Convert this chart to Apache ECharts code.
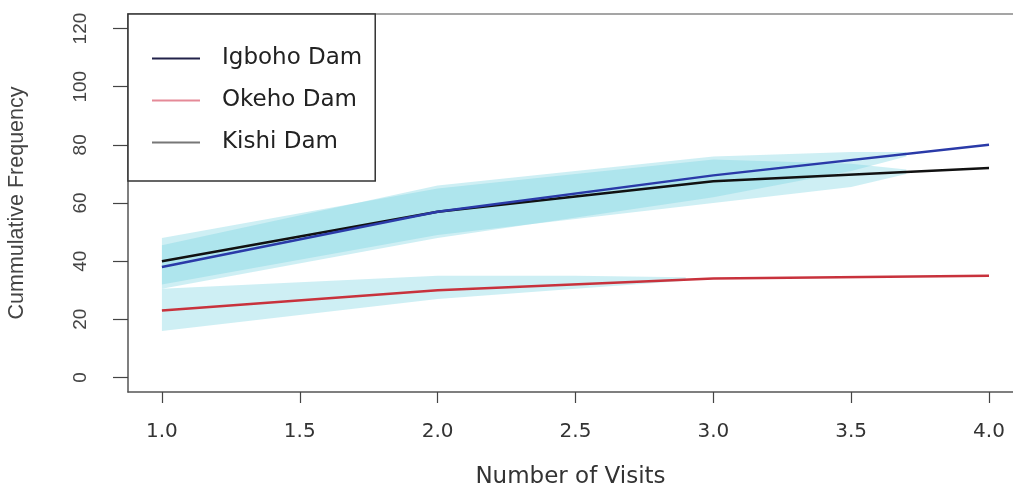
<!DOCTYPE html>
<html>
<head>
<meta charset="utf-8">
<script src="https://cdn.jsdelivr.net/npm/echarts@6/dist/echarts.min.js"></script>
<style>html,body{margin:0;padding:0;background:#fff;}#c{width:1013px;height:489px;}</style>
</head>
<body>
<div id="c"></div>
<script>
// ---- data ----
const visits = [1, 2, 3, 4];
const igboho = [38, 57, 69.5, 80];
const okeho = [23, 30, 34, 35];
const kishi = [40, 57, 67.5, 72];

const igbohoBandX = [1, 2, 3, 3.5, 3.7];
const igbohoLower = [30.5, 48, 62, 71, 76];
const igbohoUpper = [45.5, 66, 76, 77.5, 77.5];
const kishiBandX = [1, 2, 3, 3.5, 3.7];
const kishiLower = [32, 49, 60, 65.5, 70];
const kishiUpper = [48, 65, 75, 73.5, 71.5];
const okehoBandX = [1, 2, 2.5, 2.9];
const okehoLower = [16, 27, 30.5, 33.3];
const okehoUpper = [30.5, 35, 35, 34.5];

const xTicks = [1, 1.5, 2, 2.5, 3, 3.5, 4];
const yTicks = [0, 20, 40, 60, 80, 100, 120];
const seriesNames = ['Igboho Dam', 'Okeho Dam', 'Kishi Dam'];

// ---- helpers ----
const pairs = (xs, ys) => xs.map((x, i) => [x, ys[i]]);
function bandSeries(name, xs, lo, hi) {
  return {
    name: name,
    type: 'custom',
    z: 1,
    silent: true,
    data: [[xs[0], lo[0]]],
    renderItem: function (params, api) {
      const pts = [];
      for (let i = 0; i < xs.length; i++) pts.push(api.coord([xs[i], hi[i]]));
      for (let i = xs.length - 1; i >= 0; i--) pts.push(api.coord([xs[i], lo[i]]));
      return {
        type: 'polygon',
        shape: { points: pts },
        style: { fill: 'rgba(120,212,224,0.36)', stroke: null }
      };
    }
  };
}
function lineSeries(name, ys, color) {
  return {
    name: name,
    type: 'line',
    z: 3,
    data: pairs(visits, ys),
    showSymbol: false,
    symbol: 'none',
    lineStyle: { color: color, width: 2.5 },
    itemStyle: { color: color }
  };
}

const X_MIN = 0.877, X_MAX = 4.087;
const chart = echarts.init(document.getElementById('c'), null, { renderer: 'canvas' });
chart.setOption({
  animation: false,
  backgroundColor: '#fff',
  grid: { left: 128, top: 14, right: 0, bottom: 97, show: false, containLabel: false, outerBoundsMode: 'none' },
  xAxis: [{
    type: 'value', min: X_MIN, max: X_MAX, position: 'bottom',
    axisLine: { show: true, onZero: false, lineStyle: { color: '#555', width: 1.5 } },
    splitLine: { show: false },
    axisTick: { show: true, customValues: xTicks, length: 11, inside: false, lineStyle: { color: '#444', width: 1.2 } },
    axisLabel: {
      customValues: xTicks, margin: 30,
      formatter: v => Number(v).toFixed(1),
      fontFamily: 'DejaVu Sans', fontSize: 20, color: '#333'
    },
    name: 'Number of Visits', nameLocation: 'middle', nameGap: 74,
    nameTextStyle: { fontFamily: 'DejaVu Sans', fontSize: 23, color: '#333' }
  }, {
    type: 'value', min: X_MIN, max: X_MAX, position: 'top',
    axisLine: { show: true, onZero: false, lineStyle: { color: '#888', width: 1.5 } },
    splitLine: { show: false }, axisTick: { show: false }, axisLabel: { show: false }
  }],
  yAxis: {
    type: 'value', min: -5, max: 125,
    axisLine: { show: true, onZero: false, lineStyle: { color: '#555', width: 1.5 } },
    splitLine: { show: false },
    axisTick: { show: true, customValues: yTicks, length: 15, inside: false, lineStyle: { color: '#444', width: 1.2 } },
    axisLabel: {
      customValues: yTicks, rotate: 90, margin: 38,
      fontFamily: 'Liberation Sans', fontSize: 19, color: '#444'
    },
    name: 'Cummulative Frequency', nameLocation: 'middle', nameGap: 100, nameRotate: 90,
    nameTextStyle: { fontFamily: 'Liberation Sans', fontSize: 21.5, color: '#444' }
  },
  legend: {
    orient: 'vertical', left: 128, top: 14,
    padding: [33, 13, 27, 24],
    itemWidth: 48, itemHeight: 2, itemGap: 19,
    icon: 'rect',
    backgroundColor: '#fff', borderColor: '#333', borderWidth: 1.5,
    textStyle: { fontFamily: 'DejaVu Sans', fontSize: 23, color: '#222', padding: [0, 0, 0, 17] },
    data: [
      { name: seriesNames[0], itemStyle: { color: '#22224a' } },
      { name: seriesNames[1], itemStyle: { color: '#e58a98' } },
      { name: seriesNames[2], itemStyle: { color: '#777' } }
    ],
    selectedMode: false,
    z: 10
  },
  series: [
    bandSeries('band-kishi', kishiBandX, kishiLower, kishiUpper),
    bandSeries('band-igboho', igbohoBandX, igbohoLower, igbohoUpper),
    bandSeries('band-okeho', okehoBandX, okehoLower, okehoUpper),
    lineSeries(seriesNames[1], okeho, '#c8323c'),
    lineSeries(seriesNames[2], kishi, '#111'),
    lineSeries(seriesNames[0], igboho, '#2a3aa8')
  ]
});
</script>
</body>
</html>
